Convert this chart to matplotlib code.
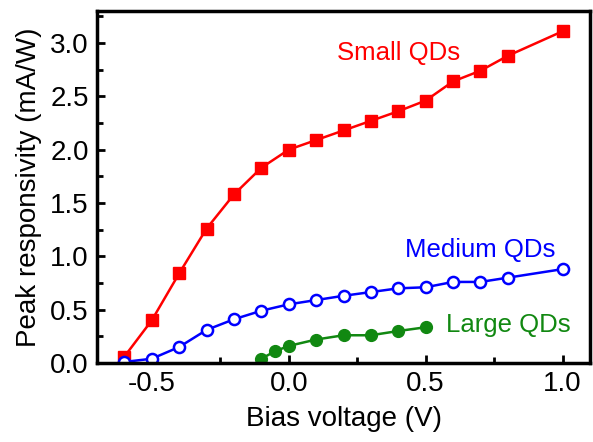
import matplotlib
matplotlib.use('Agg')
import matplotlib.pyplot as plt
from matplotlib.ticker import MultipleLocator

# bias voltage (V) and peak responsivity (mA/W)
v_small = [-0.6, -0.5, -0.4, -0.3, -0.2, -0.1, 0.0, 0.1, 0.2, 0.3, 0.4, 0.5, 0.6, 0.7, 0.8, 1.0]
r_small = [0.06, 0.40, 0.84, 1.26, 1.58, 1.83, 2.00, 2.09, 2.18, 2.27, 2.36, 2.46, 2.64, 2.74, 2.88, 3.11]

v_medium = [-0.6, -0.5, -0.4, -0.3, -0.2, -0.1, 0.0, 0.1, 0.2, 0.3, 0.4, 0.5, 0.6, 0.7, 0.8, 1.0]
r_medium = [0.01, 0.04, 0.15, 0.31, 0.41, 0.49, 0.55, 0.59, 0.63, 0.665, 0.70, 0.71, 0.76, 0.76, 0.80, 0.88]

v_large = [-0.1, -0.05, 0.0, 0.1, 0.2, 0.3, 0.4, 0.5]
r_large = [0.04, 0.11, 0.16, 0.22, 0.26, 0.26, 0.30, 0.335]

plt.rcParams['font.family'] = ['Liberation Sans', 'DejaVu Sans']

fig = plt.figure(figsize=(5.93, 4.42), dpi=100)
ax = fig.add_axes([97/593, 1 - 363/442, (590-97)/593, (363-11)/442])

ax.plot(v_small, r_small, '-s', color='#ff0000', lw=1.8, ms=8.5)
ax.plot(v_medium, r_medium, '-o', color='#0000ff', mfc='white', mew=1.8, lw=1.8, ms=8)
ax.plot(v_large, r_large, '-o', color='#118811', lw=1.8, ms=8.5)

ax.text(0.40, 2.91, 'Small QDs', color='#ff0000', fontsize=18.5, ha='center', va='center')
ax.text(0.70, 1.06, 'Medium QDs', color='#0000ff', fontsize=18.5, ha='center', va='center')
ax.text(0.575, 0.36, 'Large QDs', color='#118811', fontsize=18.5, ha='left', va='center')

ax.set_xlim(-0.7, 1.1)
ax.set_ylim(0, 3.3)
ax.xaxis.set_major_locator(MultipleLocator(0.5))
ax.xaxis.set_minor_locator(MultipleLocator(0.25))
ax.yaxis.set_major_locator(MultipleLocator(0.5))
ax.yaxis.set_minor_locator(MultipleLocator(0.25))
ax.xaxis.set_major_formatter(matplotlib.ticker.FormatStrFormatter('%.1f'))
ax.yaxis.set_major_formatter(matplotlib.ticker.FormatStrFormatter('%.1f'))

ax.tick_params(which='both', direction='in', width=2, labelsize=20, pad=6)
ax.tick_params(which='major', length=6)
ax.tick_params(which='minor', length=4)
for s in ax.spines.values():
    s.set_linewidth(2.5)

ax.set_xlabel('Bias voltage (V)', fontsize=20, labelpad=6)
ax.set_ylabel('Peak responsivity (mA/W)', fontsize=20, labelpad=6)

plt.savefig('out.png', dpi=100)
